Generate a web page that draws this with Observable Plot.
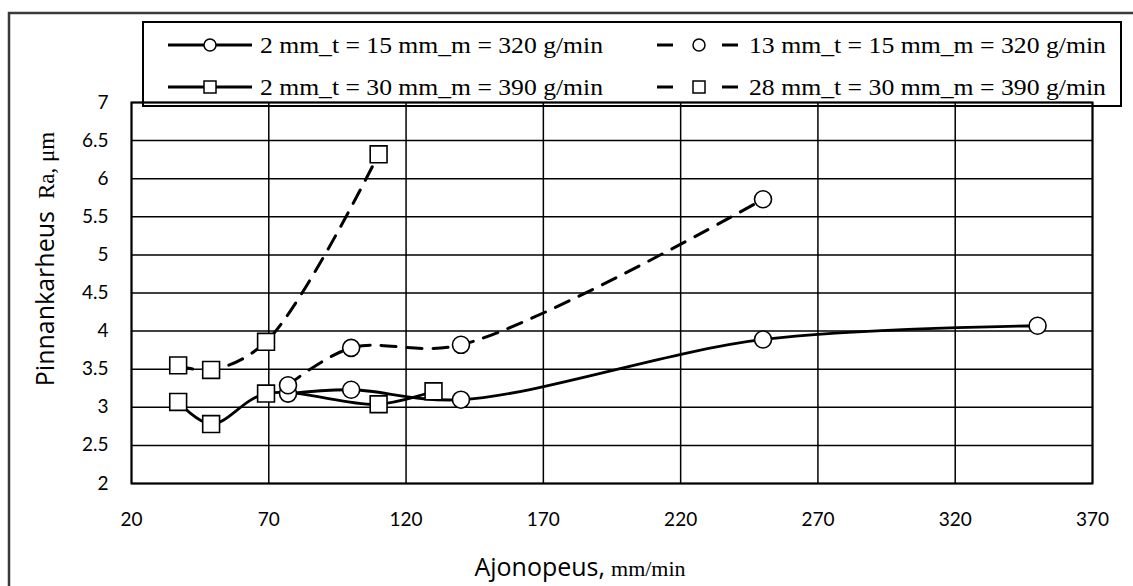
<!DOCTYPE html>
<html><head><meta charset="utf-8">
<script src="https://cdn.jsdelivr.net/npm/d3@7"></script>
<script src="https://cdn.jsdelivr.net/npm/@observablehq/plot@0.6"></script>
<style>body{margin:0;background:#fff} svg{display:block}</style>
</head><body><div id="chart"></div>
<script>
// ---- data ----
const seriesNames = [
  "2 mm_t = 15 mm_m = 320 g/min",
  "13 mm_t = 15 mm_m = 320 g/min",
  "2 mm_t = 30 mm_m = 390 g/min",
  "28 mm_t = 30 mm_m = 390 g/min"
];
const speedA = [77, 100, 140, 250, 350];
const raA    = [3.18, 3.23, 3.10, 3.89, 4.07];
const speedB = [77, 100, 140, 250];
const raB    = [3.29, 3.78, 3.82, 5.73];
const speedC = [37, 49, 69, 110, 130];
const raC    = [3.07, 2.78, 3.18, 3.04, 3.21];
const speedD = [37, 49, 69, 110];
const raD    = [3.55, 3.49, 3.86, 6.32];
const xTicks = [20, 70, 120, 170, 220, 270, 320, 370];
const yTicks = [2, 2.5, 3, 3.5, 4, 4.5, 5, 5.5, 6, 6.5, 7];
const xTitle = "Ajonopeus,";
const xUnit = "mm/min";
const yTitle = "Pinnankarheus";
const yUnit = "Ra, μm";

const seriesDefs = [
  {name: seriesNames[0], xs: speedA, ys: raA, dashed: false, symbol: "circle"},
  {name: seriesNames[1], xs: speedB, ys: raB, dashed: true,  symbol: "circle"},
  {name: seriesNames[2], xs: speedC, ys: raC, dashed: false, symbol: "square"},
  {name: seriesNames[3], xs: speedD, ys: raD, dashed: true,  symbol: "square"}
];
const rows = seriesDefs.flatMap(s => s.xs.map((x, i) => ({series: s.name, x, y: s.ys[i], dashed: s.dashed, symbol: s.symbol})));

const lineOpts = {x: "x", y: "y", z: "series", curve: "catmull-rom", stroke: "#000", strokeWidth: 2.8};
const chart = Plot.plot({
  width: 1133, height: 586,
  marginLeft: 131, marginRight: 41, marginTop: 102, marginBottom: 103,
  style: {fontFamily: "Lato, 'Open Sans', sans-serif", fontSize: "19px", color: "#000", background: "#fff"},
  x: {domain: [20, 370], ticks: xTicks, tickFormat: d => String(d), label: null, tickSize: 0, tickPadding: 29},
  y: {domain: [2, 7], ticks: yTicks, tickFormat: d => String(d), label: null, tickSize: 0, tickPadding: 23},
  marks: [
    Plot.gridX(xTicks, {stroke: "#000", strokeOpacity: 1, strokeWidth: 1.5}),
    Plot.gridY(yTicks, {stroke: "#000", strokeOpacity: 1, strokeWidth: 1.5}),
    Plot.frame({stroke: "#000", strokeWidth: 2}),
    Plot.line(rows.filter(d => !d.dashed), lineOpts),
    Plot.line(rows.filter(d => d.dashed), {...lineOpts, strokeWidth: 3, strokeDasharray: "15,11"}),
    Plot.dot(rows.filter(d => d.symbol === "circle"), {x: "x", y: "y", symbol: "circle", r: 8.5, fill: "#fff", stroke: "#000", strokeWidth: 1.6}),
    Plot.dot(rows.filter(d => d.symbol === "square"), {x: "x", y: "y", symbol: "square", r: 9.5, fill: "#fff", stroke: "#000", strokeWidth: 1.6})
  ]
});
document.getElementById("chart").appendChild(chart);

const svg = d3.select(chart);
// outer figure frame
svg.append("path").attr("d", "M9,586V13H1133").attr("fill", "none").attr("stroke", "#3a3a3a").attr("stroke-width", 2.5);

// legend
const lg = svg.append("g").attr("text-anchor", "start");
lg.append("rect").attr("x", 143).attr("y", 22).attr("width", 978).attr("height", 84)
  .attr("fill", "none").attr("stroke", "#000").attr("stroke-width", 2);
const legendPos = [
  {x: 168, y: 45, text: 260, len: 343}, {x: 657, y: 45, text: 749, len: 357},
  {x: 168, y: 87, text: 260, len: 343}, {x: 657, y: 87, text: 749, len: 357}
];
const legendOrder = [0, 1, 2, 3];
legendOrder.forEach((si, k) => {
  const s = seriesDefs[si], p = legendPos[k];
  if (s.dashed) {
    lg.append("line").attr("x1", p.x).attr("x2", p.x + 16).attr("y1", p.y).attr("y2", p.y).attr("stroke", "#000").attr("stroke-width", 3);
    lg.append("line").attr("x1", p.x + 65).attr("x2", p.x + 81).attr("y1", p.y).attr("y2", p.y).attr("stroke", "#000").attr("stroke-width", 3);
  } else {
    lg.append("line").attr("x1", p.x).attr("x2", p.x + 84).attr("y1", p.y).attr("y2", p.y).attr("stroke", "#000").attr("stroke-width", 3);
  }
  const cx = p.x + 42;
  if (s.symbol === "circle") {
    lg.append("circle").attr("cx", cx).attr("cy", p.y).attr("r", 6).attr("fill", "#fff").attr("stroke", "#000").attr("stroke-width", 1.5);
  } else {
    lg.append("rect").attr("x", cx - 6).attr("y", p.y - 6).attr("width", 12).attr("height", 12).attr("fill", "#fff").attr("stroke", "#000").attr("stroke-width", 1.5);
  }
  lg.append("text").attr("x", p.text).attr("y", p.y + 8).attr("text-anchor", "start")
    .attr("font-family", "'Liberation Serif', 'Times New Roman', serif").attr("font-size", 23)
    .attr("textLength", p.len).attr("lengthAdjust", "spacingAndGlyphs")
    .attr("fill", "#000").text(s.name);
});

// axis titles
const yt = svg.append("text").attr("transform", "translate(54,259) rotate(-90)").attr("text-anchor", "middle").attr("fill", "#000");
yt.append("tspan").attr("font-family", "'Open Sans', sans-serif").attr("font-size", 25).text(yTitle);
yt.append("tspan").attr("dx", 12).attr("font-family", "'Liberation Serif', serif").attr("font-size", 23).text(yUnit);

const xt = svg.append("text").attr("x", 580).attr("y", 576).attr("text-anchor", "middle").attr("fill", "#000");
xt.append("tspan").attr("font-family", "'Open Sans', sans-serif").attr("font-size", 25).text(xTitle);
xt.append("tspan").attr("dx", 6).attr("font-family", "'Liberation Serif', serif").attr("font-size", 22).text(xUnit);
</script>
</body></html>
